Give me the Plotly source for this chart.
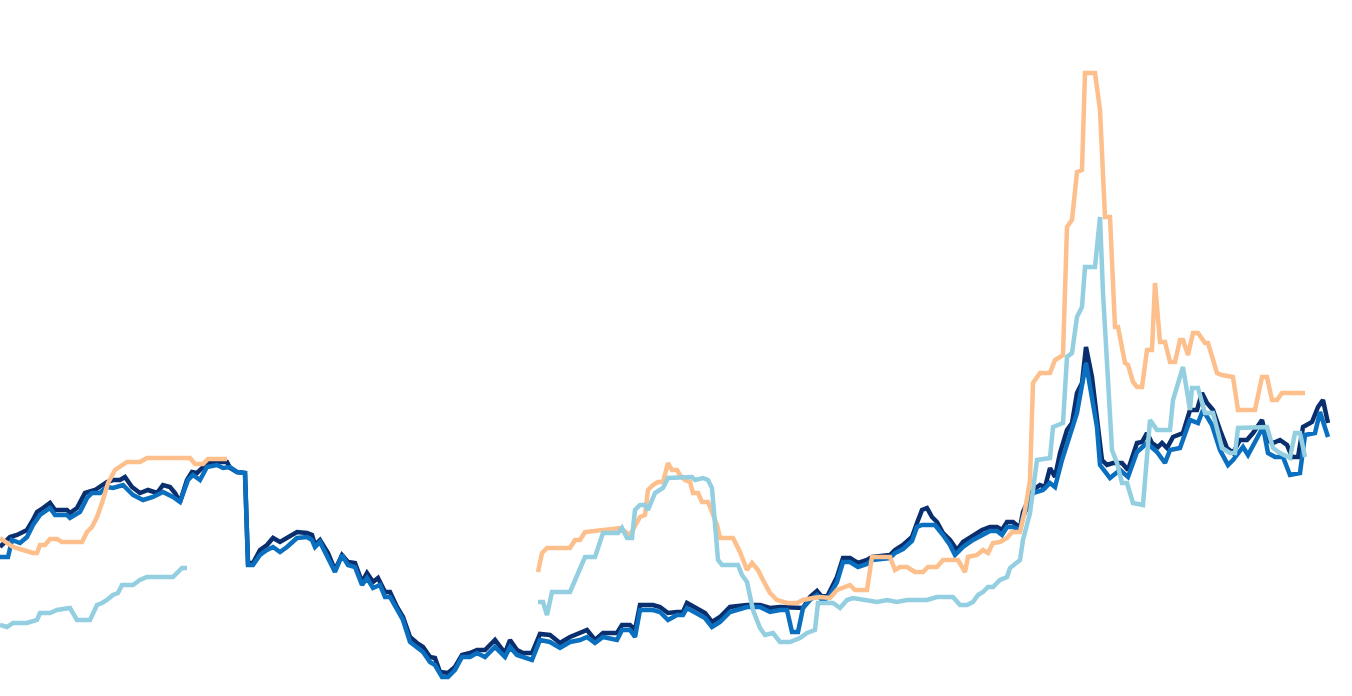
import plotly.graph_objects as go

# dark navy series
navy_x = [0, 10, 17, 27, 33, 37, 43, 50, 55, 67, 70, 77, 85, 95, 107, 113, 120, 125, 132, 140, 148, 157, 163, 170, 175, 180, 187, 192, 197, 202, 207, 213, 227, 230, 237, 245, 248, 253, 260, 267, 273, 280, 287, 297, 307, 312, 315, 320, 328, 335, 342, 348, 355, 362, 367, 373, 378, 385, 390, 397, 403, 410, 417, 423, 430, 435, 440, 448, 455, 462, 470, 477, 485, 495, 505, 510, 517, 523, 532, 540, 550, 560, 570, 580, 587, 595, 603, 617, 622, 630, 635, 640, 653, 660, 668, 677, 683, 687, 697, 705, 712, 720, 730, 747, 760, 770, 780, 790, 803, 810, 817, 822, 828, 837, 843, 850, 858, 867, 872, 890, 895, 903, 912, 917, 922, 927, 932, 937, 943, 950, 957, 963, 973, 982, 990, 997, 1002, 1007, 1013, 1020, 1023, 1033, 1040, 1045, 1050, 1055, 1060, 1067, 1072, 1077, 1082, 1086, 1092, 1098, 1102, 1107, 1113, 1122, 1128, 1137, 1142, 1147, 1152, 1158, 1162, 1167, 1173, 1183, 1190, 1197, 1202, 1207, 1213, 1220, 1227, 1233, 1240, 1247, 1253, 1262, 1267, 1273, 1280, 1287, 1292, 1298, 1303, 1312, 1318, 1323, 1328]
navy_y = [153, 163, 165, 170, 180, 188, 192, 197, 190, 190, 187, 192, 207, 210, 218, 220, 220, 223, 213, 207, 210, 207, 215, 213, 207, 198, 220, 228, 227, 232, 237, 238, 238, 232, 228, 227, 137, 137, 150, 155, 162, 158, 162, 168, 167, 165, 155, 160, 147, 130, 145, 138, 137, 118, 127, 118, 122, 108, 108, 93, 83, 63, 57, 53, 43, 42, 28, 27, 33, 45, 47, 50, 50, 60, 47, 60, 50, 47, 47, 66, 65, 57, 63, 67, 70, 60, 67, 67, 75, 75, 70, 95, 95, 93, 87, 88, 88, 97, 92, 87, 78, 83, 93, 95, 95, 92, 93, 93, 92, 103, 109, 103, 105, 123, 142, 142, 137, 140, 143, 145, 150, 155, 163, 177, 190, 192, 183, 178, 167, 160, 150, 158, 165, 170, 173, 173, 170, 178, 178, 172, 188, 210, 215, 213, 232, 223, 247, 270, 277, 307, 317, 353, 323, 273, 240, 235, 237, 237, 230, 257, 258, 267, 257, 253, 257, 252, 263, 267, 290, 290, 307, 297, 290, 270, 252, 247, 260, 260, 267, 280, 260, 257, 260, 255, 243, 243, 273, 278, 293, 300, 277]

# medium blue series
blue_x = [0, 8, 12, 20, 27, 33, 40, 50, 55, 67, 70, 80, 87, 92, 100, 107, 113, 123, 133, 143, 153, 163, 173, 180, 188, 193, 200, 207, 217, 223, 230, 237, 245, 248, 253, 260, 267, 273, 280, 287, 297, 307, 312, 315, 320, 328, 335, 342, 348, 355, 362, 367, 373, 380, 385, 390, 397, 403, 410, 417, 423, 430, 435, 442, 448, 455, 462, 470, 477, 485, 495, 505, 510, 517, 523, 532, 540, 550, 560, 570, 580, 587, 595, 603, 617, 622, 630, 635, 640, 653, 660, 668, 677, 683, 687, 697, 705, 712, 720, 730, 747, 760, 770, 780, 787, 792, 798, 803, 810, 817, 822, 828, 837, 843, 850, 858, 867, 872, 890, 895, 903, 912, 917, 922, 935, 943, 950, 955, 963, 973, 982, 990, 997, 1002, 1007, 1013, 1020, 1023, 1033, 1043, 1050, 1055, 1062, 1070, 1077, 1086, 1097, 1100, 1110, 1120, 1128, 1137, 1147, 1157, 1165, 1170, 1180, 1190, 1198, 1203, 1212, 1220, 1228, 1233, 1243, 1248, 1258, 1263, 1268, 1275, 1283, 1290, 1300, 1305, 1315, 1320, 1328]
blue_y = [143, 143, 160, 157, 163, 175, 185, 192, 185, 185, 182, 188, 202, 207, 207, 213, 212, 215, 205, 200, 203, 208, 203, 198, 220, 225, 220, 233, 235, 232, 233, 228, 227, 135, 135, 145, 150, 153, 148, 153, 162, 163, 160, 153, 158, 143, 128, 145, 135, 133, 115, 122, 112, 115, 103, 103, 90, 80, 58, 53, 48, 38, 35, 23, 23, 30, 43, 43, 47, 43, 53, 43, 53, 45, 43, 40, 60, 58, 52, 58, 60, 63, 57, 63, 60, 70, 70, 63, 90, 90, 88, 80, 85, 85, 92, 87, 82, 73, 78, 88, 93, 93, 88, 90, 90, 68, 68, 92, 100, 105, 100, 102, 118, 138, 138, 133, 136, 140, 142, 147, 151, 159, 173, 175, 175, 165, 155, 145, 153, 160, 165, 169, 169, 165, 173, 173, 170, 183, 207, 210, 217, 213, 240, 267, 287, 337, 273, 235, 222, 230, 223, 248, 257, 248, 237, 250, 252, 280, 277, 290, 275, 250, 235, 240, 253, 245, 263, 273, 247, 243, 243, 225, 227, 265, 267, 288, 263]

# orange series (gap in the middle)
orange_x = [0, 7, 13, 23, 33, 37, 40, 45, 50, 57, 62, 82, 87, 92, 97, 102, 108, 115, 122, 127, 140, 147, 190, 195, 203, 208, 227, None,
            538, 542, 547, 570, 575, 580, 585, 607, 620, 630, 637, 640, 645, 648, 653, 658, 663, 668, 672, 677, 680, 685, 690, 693, 698, 702, 708, 713, 717, 720, 733, 740, 747, 752, 758, 763, 770, 777, 787, 797, 803, 813, 820, 830, 837, 850, 855, 867, 872, 890, 895, 900, 907, 915, 923, 928, 937, 943, 958, 965, 968, 977, 983, 988, 993, 1000, 1007, 1012, 1020, 1025, 1030, 1033, 1040, 1050, 1055, 1060, 1063, 1067, 1072, 1077, 1082, 1085, 1095, 1100, 1105, 1110, 1115, 1118, 1125, 1128, 1133, 1137, 1142, 1147, 1152, 1155, 1160, 1165, 1170, 1175, 1180, 1183, 1188, 1193, 1198, 1205, 1208, 1217, 1222, 1233, 1238, 1255, 1262, 1267, 1272, 1277, 1282, 1305]
orange_y = [162, 157, 153, 150, 147, 147, 155, 155, 161, 161, 158, 158, 168, 173, 183, 197, 217, 230, 235, 238, 238, 242, 242, 236, 236, 241, 241, None,
            128, 147, 152, 152, 160, 160, 168, 170, 172, 165, 177, 183, 185, 210, 215, 218, 218, 237, 230, 230, 225, 220, 218, 207, 207, 198, 198, 185, 175, 162, 162, 148, 130, 137, 130, 120, 107, 100, 97, 97, 100, 102, 103, 102, 110, 115, 110, 110, 143, 143, 130, 133, 133, 128, 128, 133, 133, 140, 140, 128, 143, 145, 150, 147, 157, 158, 162, 168, 168, 190, 220, 317, 327, 327, 340, 343, 345, 473, 480, 528, 530, 627, 627, 590, 483, 483, 373, 373, 337, 335, 318, 313, 313, 350, 350, 417, 358, 358, 338, 338, 360, 360, 345, 367, 367, 357, 357, 327, 325, 323, 290, 290, 323, 323, 300, 300, 307, 307]

# light blue series (gap in the middle)
light_x = [0, 7, 13, 27, 37, 40, 50, 57, 70, 77, 90, 97, 102, 107, 113, 118, 122, 133, 140, 147, 173, 182, 187, None,
           538, 543, 547, 552, 570, 585, 595, 603, 618, 622, 627, 632, 635, 640, 645, 648, 655, 663, 668, 687, 692, 695, 703, 708, 712, 718, 722, 738, 742, 747, 753, 760, 765, 773, 780, 790, 800, 807, 815, 818, 833, 840, 847, 853, 867, 877, 887, 897, 907, 927, 937, 953, 960, 967, 973, 978, 983, 988, 993, 1000, 1007, 1010, 1020, 1023, 1030, 1037, 1050, 1053, 1063, 1067, 1072, 1077, 1082, 1085, 1095, 1100, 1103, 1107, 1112, 1117, 1122, 1127, 1133, 1143, 1150, 1157, 1170, 1173, 1183, 1190, 1192, 1198, 1205, 1213, 1222, 1230, 1235, 1238, 1263, 1267, 1273, 1280, 1290, 1295, 1300, 1305]
light_y = [75, 73, 77, 77, 80, 87, 87, 90, 92, 80, 80, 95, 97, 100, 105, 107, 115, 115, 120, 123, 123, 132, 132, None,
           98, 98, 85, 108, 108, 143, 143, 167, 167, 172, 162, 162, 190, 195, 195, 190, 207, 212, 222, 222, 223, 220, 222, 220, 212, 140, 135, 135, 125, 118, 90, 72, 65, 67, 58, 58, 62, 67, 70, 97, 97, 92, 100, 102, 100, 98, 100, 98, 100, 100, 103, 103, 95, 95, 98, 105, 108, 113, 113, 120, 123, 132, 140, 160, 187, 240, 242, 273, 277, 343, 347, 383, 393, 433, 433, 483, 407, 330, 250, 237, 217, 217, 197, 195, 280, 270, 270, 300, 333, 290, 312, 312, 287, 287, 252, 247, 247, 272, 273, 273, 252, 247, 242, 267, 267, 243]

for xs, ys in [(navy_x, navy_y), (blue_x, blue_y), (orange_x, orange_y), (light_x, light_y)]:
    assert len(xs) == len(ys), (len(xs), len(ys))

fig = go.Figure()
fig.add_trace(go.Scatter(x=navy_x, y=navy_y, mode='lines', name='Navy',
                         line=dict(color='#0a2f6e', width=4.5)))
fig.add_trace(go.Scatter(x=blue_x, y=blue_y, mode='lines', name='Blue',
                         line=dict(color='#0b6fc0', width=4.5)))
fig.add_trace(go.Scatter(x=orange_x, y=orange_y, mode='lines', name='Orange',
                         line=dict(color='#fdbf8c', width=4.5)))
fig.add_trace(go.Scatter(x=light_x, y=light_y, mode='lines', name='Light blue',
                         line=dict(color='#93cfe0', width=4.5)))

fig.update_layout(
    width=1352, height=696,
    margin=dict(l=0, r=0, t=0, b=0),
    paper_bgcolor='white', plot_bgcolor='white',
    showlegend=False,
    hovermode=False,
    xaxis=dict(range=[0, 1352], visible=False),
    yaxis=dict(range=[4, 700], visible=False),
)

# drop the default page margin so the chart fills the window
fig.write_html("out.html", config={'displayModeBar': False},
               post_script="document.body.style.margin='0';document.body.style.overflow='hidden';")
